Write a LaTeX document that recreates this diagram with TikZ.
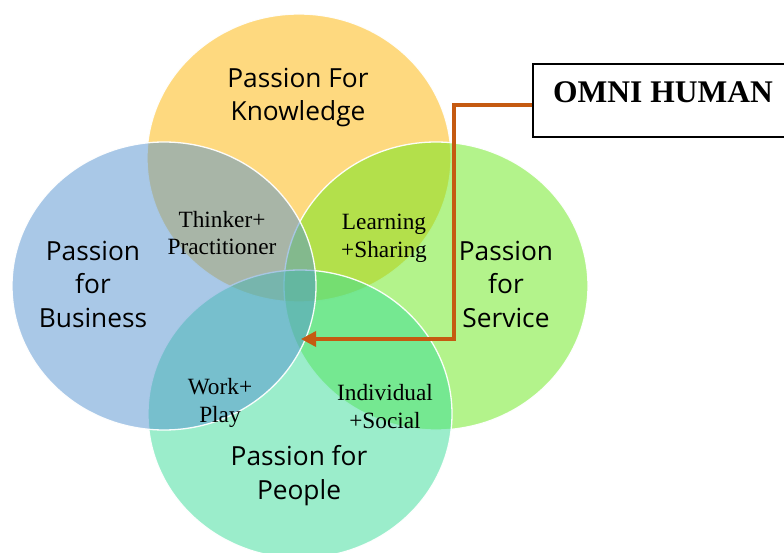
\documentclass[tikz,border=0pt]{standalone}
\usepackage{fontspec}
\setmainfont{Liberation Serif}
\newfontfamily\venfont{Open Sans}
\usetikzlibrary{arrows.meta}

% fill colours of the four passions (shown at half opacity)
\definecolor{knowC}{RGB}{254,180,0}
\definecolor{servC}{RGB}{104,232,24}
\definecolor{peopC}{RGB}{56,220,152}
\definecolor{busC}{RGB}{84,146,208}
\definecolor{linkC}{RGB}{197,90,17}

\begin{document}
\begin{tikzpicture}[x=1pt,y=-1pt,
  disc/.style={fill=#1, fill opacity=0.5, draw=white, draw opacity=0.95, line width=1.3pt},
  area/.style={font=\venfont\fontsize{26.3}{33.5}\selectfont, align=center, anchor=base, inner sep=0pt},
  pair/.style={font=\fontsize{23.3}{28}\selectfont, align=center, anchor=base, inner sep=0pt},
  tag/.style={draw=black, line width=1.2pt, font=\bfseries\fontsize{31.5}{36}\selectfont,
    inner sep=0pt, minimum width=260pt, text height=39pt, text depth=34pt, anchor=base},
  link/.style={draw=linkC, line width=3.4pt, -{Triangle[length=15pt,width=15pt]}}
]
\useasboundingbox (0,0) rectangle (784,553);

% the four overlapping passions
\path[disc=knowC] (299,158) ellipse [x radius=152pt, y radius=144pt];
\path[disc=servC] (436,286) ellipse [x radius=152pt, y radius=144pt];
\path[disc=peopC] (300,414) ellipse [x radius=152pt, y radius=144pt];
\path[disc=busC]  (164,286) ellipse [x radius=152pt, y radius=144pt];

% passion labels (placed by the baseline of their last line)
\node[area] (know) at (298,121) {Passion For\\Knowledge};
\node[area] (bus)  at (93,327)  {Passion\\for\\Business};
\node[area] (serv) at (506,327) {Passion\\for\\Service};
\node[area] (peop) at (299,499) {Passion for\\People};

% pairwise overlaps
\node[pair] (think) at (222,255) {Thinker+\\Practitioner};
\node[pair] (learn) at (384,258) {Learning\\+Sharing};
\node[pair] (work)  at (220,422) {Work+\\Play};
\node[pair] (indiv) at (385,428) {Individual\\+Social};

% the centre, pointed at from the callout
\coordinate (core) at (301,339);
\coordinate (bend) at (454,339);
\node[tag] (omni) at (663,103) {OMNI HUMAN};

\draw[link] ([yshift=-4.5pt]omni.west) -| (bend) -- (core);
\end{tikzpicture}
\end{document}
